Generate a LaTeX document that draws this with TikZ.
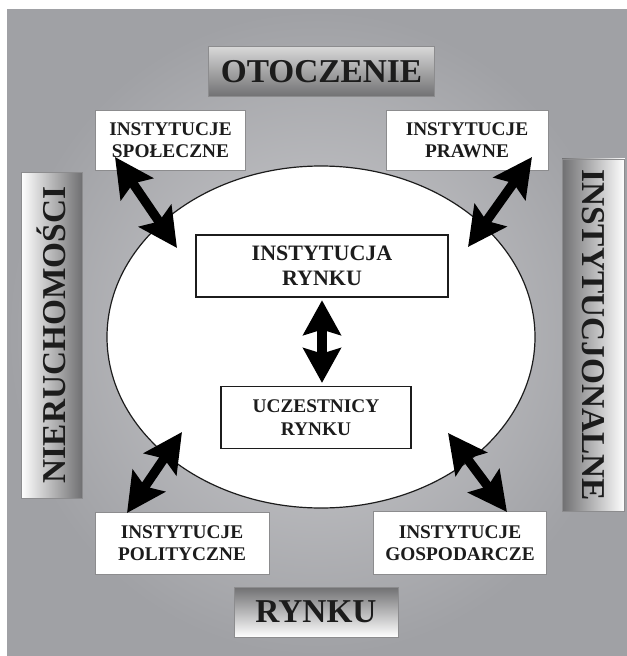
\documentclass[tikz,border=0pt]{standalone}
\usepackage{fontspec}
\setmainfont{Liberation Serif}
\usetikzlibrary{shapes.geometric,arrows.meta}
\definecolor{bgdark}{RGB}{160,161,165}
\definecolor{bglight}{RGB}{206,206,209}
\definecolor{frame}{RGB}{140,140,142}
\definecolor{ink}{RGB}{28,28,28}
\definecolor{shdark}{RGB}{112,112,114}
\begin{document}
\begin{tikzpicture}[x=0.75pt,y=-0.75pt,
    lbl/.style={draw=frame,line width=0.6pt,inner sep=0pt,text=ink,
      font=\fontsize{25}{28}\selectfont\bfseries},
    inbox/.style={draw=frame,fill=white,line width=0.6pt,inner sep=0pt,align=center,text=ink,
      font=\fontsize{14.5}{16.5}\selectfont\bfseries},
    core/.style={draw=ink,fill=white,line width=0.9pt,inner sep=0pt,align=center,text=ink},
    dbl/.style={{Stealth[length=29pt,width=29pt,inset=5pt]}-{Stealth[length=29pt,width=29pt,inset=5pt]},
      line width=7pt,black}]
  \useasboundingbox (0,0) rectangle (627,656);
  \shade[inner color=bglight,outer color=bgdark] (7,10) rectangle (627,656);
  % labels round the edge
  \node (oto) [lbl,top color=gray!30,bottom color=shdark,minimum width=170pt,minimum height=38pt] at (321.5,71.5) {OTOCZENIE};
  \node (ryn) [lbl,top color=shdark,bottom color=white,minimum width=123pt,minimum height=37.5pt] at (316,612) {RYNKU};
  \node (nier) [lbl,rotate=90,left color=white,right color=shdark,minimum width=244.5pt,minimum height=45.75pt] at (51.5,335) {NIERUCHOMOŚCI};
  \node (inst) [lbl,rotate=-90,left color=shdark,right color=white,minimum width=264pt,minimum height=47pt] at (593.5,335) {INSTYTUCJONALNE};
  % market
  \node (el) [ellipse,draw=ink,fill=white,line width=0.9pt,minimum width=321pt,minimum height=256.5pt,inner sep=0pt] at (321,337) {};
  \node (ir) [core,font=\fontsize{16.5}{19}\selectfont\bfseries,minimum width=189pt,minimum height=46.5pt] at (322,266) {INSTYTUCJA\\RYNKU};
  \node (ur) [core,font=\fontsize{14.5}{17}\selectfont\bfseries,minimum width=142.5pt,minimum height=47pt] at (316,417.5) {UCZESTNICY\\RYNKU};
  % institutions
  \node (spo) [inbox,minimum width=113pt,minimum height=45pt] at (170.5,140) {INSTYTUCJE\\SPOŁECZNE};
  \node (pra) [inbox,minimum width=121.5pt,minimum height=45pt] at (467,140) {INSTYTUCJE\\PRAWNE};
  \node (pol) [inbox,minimum width=130.5pt,minimum height=47pt] at (182,543.5) {INSTYTUCJE\\POLITYCZNE};
  \node (gos) [inbox,minimum width=130pt,minimum height=47pt] at (460,543) {INSTYTUCJE\\GOSPODARCZE};
  \coordinate (spo1) at (115,157);
  \coordinate (spo2) at (177,248);
  \coordinate (pra1) at (532,157);
  \coordinate (pra2) at (468,247);
  \coordinate (pol1) at (127,513);
  \coordinate (pol2) at (182,432);
  \coordinate (gos1) at (507,512);
  \coordinate (gos2) at (448,433);
  \draw[dbl] (spo1) -- (spo2);
  \draw[dbl] (pra1) -- (pra2);
  \draw[dbl] (pol1) -- (pol2);
  \draw[dbl] (gos1) -- (gos2);
  \draw[{Stealth[length=26pt,width=28pt,inset=4pt]}-{Stealth[length=26pt,width=28pt,inset=4pt]},
    line width=7pt,shorten <=2pt,shorten >=2pt] (ir.south) -- (ir.south |- ur.north);
\end{tikzpicture}
\end{document}
